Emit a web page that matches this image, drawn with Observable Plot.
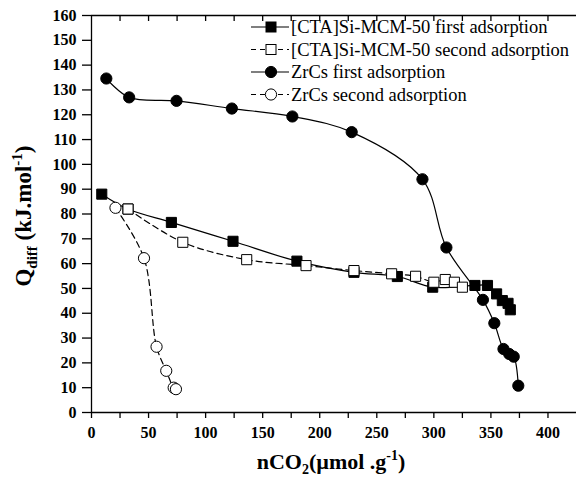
<!DOCTYPE html>
<html><head><meta charset="utf-8">
<script src="https://cdn.jsdelivr.net/npm/d3@7"></script>
<script src="https://cdn.jsdelivr.net/npm/@observablehq/plot@0.6"></script>
<style>body{margin:0;background:#fff} #chart svg{display:block} #chart svg text{font-family:"Liberation Serif","DejaVu Serif",serif !important}</style>
</head><body><div id="chart"></div>
<script>
const ctaFirstX = [9, 32, 70, 124, 180, 230, 268, 299, 336, 347, 355, 360, 365, 367];
const ctaFirstY = [88, 82, 76.6, 69, 61, 56.5, 54.8, 50.5, 51.2, 51.2, 47.8, 45.1, 44, 41.4];
const ctaSecondX = [32, 80, 136, 188, 230, 263, 284, 300, 310, 318, 325];
const ctaSecondY = [82, 68.6, 61.6, 59.2, 57.2, 55.9, 54.9, 52.5, 53.6, 52.5, 50.5];
const zrFirstX = [13, 33, 74.5, 123, 176, 228, 290, 311, 343, 353, 361, 366, 370, 374];
const zrFirstY = [134.6, 127, 125.6, 122.5, 119.3, 113, 94, 66.5, 45.4, 36, 25.6, 23.6, 22.5, 10.8];
const zrSecondX = [21, 46, 57, 65.5, 72, 74];
const zrSecondY = [82.5, 62.2, 26.5, 16.8, 10, 9.4];
const seriesNames = ["[CTA]Si-MCM-50 first adsorption", "[CTA]Si-MCM-50 second adsorption", "ZrCs first adsorption", "ZrCs second adsorption"];
const seriesSymbols = ["square", "square", "circle", "circle"];
const seriesFilled = [true, false, true, false];
const seriesDashed = [false, true, false, true];
const yTicks = d3.range(0, 161, 10);
const xTicks = d3.range(0, 401, 25);

const rows = (xs, ys) => xs.map((x, i) => ({x, y: ys[i]}));
const sets = [rows(ctaFirstX, ctaFirstY), rows(ctaSecondX, ctaSecondY), rows(zrFirstX, zrFirstY), rows(zrSecondX, zrSecondY)];
const font = "Liberation Serif, DejaVu Serif, serif";

const marks = [
  Plot.axisY({ticks: yTicks, tickSize: 9, tickPadding: 6, label: null, strokeWidth: 1.3}),
  Plot.axisX({anchor: "bottom", ticks: xTicks, tickSize: 6, tickPadding: 8, tickFormat: d => d % 50 === 0 ? String(d) : "", label: null, strokeWidth: 1.3}),
  Plot.axisX({anchor: "top", ticks: xTicks.filter(d => d > 0), tickSize: -5, tickFormat: () => "", label: null, strokeWidth: 1.3}),
  Plot.ruleY([0, 160], {stroke: "black", strokeWidth: 1.3}),
  Plot.ruleX([0], {stroke: "black", strokeWidth: 1.3})
];
sets.forEach((data, i) => {
  marks.push(Plot.line(data, {x: "x", y: "y", curve: "catmull-rom", stroke: "black", strokeWidth: 1.2, strokeDasharray: seriesDashed[i] ? "6,4" : null}));
  marks.push(Plot.dot(data, {x: "x", y: "y", symbol: seriesSymbols[i], r: seriesSymbols[i] === "square" ? 5.7 : 5.6, fill: seriesFilled[i] ? "black" : "white", stroke: "black", strokeWidth: 1}));
});

const plot = Plot.plot({
  width: 576, height: 481, marginLeft: 91, marginRight: 0, marginTop: 15, marginBottom: 69,
  x: {domain: [0, 425]}, y: {domain: [0, 160]},
  style: {fontFamily: font, fontSize: "16px", fontWeight: "bold", color: "black", background: "white", overflow: "visible"},
  marks
});
document.getElementById("chart").appendChild(plot);

const svg = d3.select(plot);
// x title
const xt = svg.append("text").attr("x", 331).attr("y", 469).attr("text-anchor", "middle")
  .attr("font-size", 22).attr("font-weight", "bold").attr("fill", "black");
xt.append("tspan").text("nCO");
xt.append("tspan").attr("font-size", 14).attr("dy", 5).text("2");
xt.append("tspan").attr("dy", -5).text("(\u00b5mol .g");
xt.append("tspan").attr("font-size", 14).attr("dy", -9).text("-1");
xt.append("tspan").attr("dy", 9).text(")");
// y title
const yt = svg.append("text").attr("transform", "translate(31,216) rotate(-90)").attr("text-anchor", "middle")
  .attr("font-size", 23).attr("font-weight", "bold").attr("fill", "black");
yt.append("tspan").text("Q");
yt.append("tspan").attr("font-size", 15).attr("dy", 6).text("diff");
yt.append("tspan").attr("dy", -6).text(" (kJ.mol");
yt.append("tspan").attr("font-size", 15).attr("dy", -9).text("-1");
yt.append("tspan").attr("dy", 9).text(")");
// legend
const lg = svg.append("g").attr("font-size", 18.5).attr("font-weight", "normal").attr("text-anchor", "start");
seriesNames.forEach((name, i) => {
  const y = 27 + i * 22.5;
  lg.append("line").attr("x1", 251).attr("x2", 289).attr("y1", y).attr("y2", y)
    .attr("stroke", "black").attr("stroke-width", 1.2).attr("stroke-dasharray", seriesDashed[i] ? "5,4" : null);
  const fill = seriesFilled[i] ? "black" : "white";
  if (seriesSymbols[i] === "square") {
    lg.append("rect").attr("x", 266).attr("y", y - 5).attr("width", 10).attr("height", 10).attr("fill", fill).attr("stroke", "black");
  } else {
    lg.append("circle").attr("cx", 271).attr("cy", y).attr("r", 5.6).attr("fill", fill).attr("stroke", "black");
  }
  lg.append("text").attr("x", 291).attr("y", y + 6).attr("fill", "black").text(name);
});
</script>
</body></html>
